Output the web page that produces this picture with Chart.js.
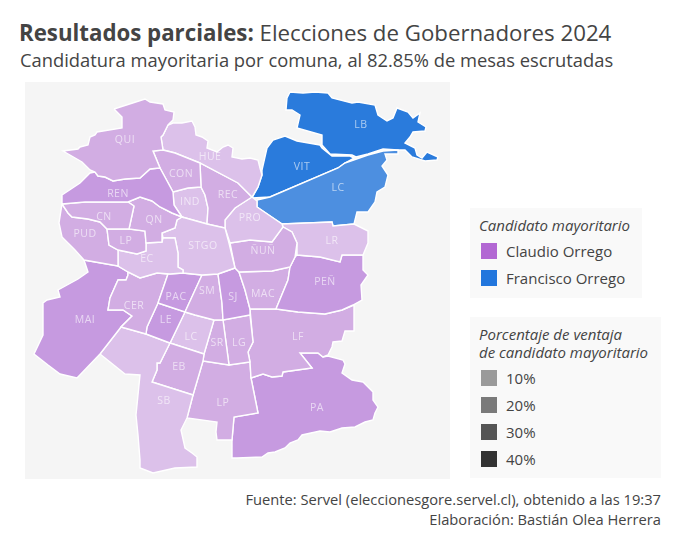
<!DOCTYPE html>
<html lang="es">
<head>
<meta charset="utf-8">
<title>Resultados parciales</title>
<script src="https://cdn.jsdelivr.net/npm/chart.js@4"></script>
<style>
  html, body { margin: 0; padding: 0; background: #fff; }
  body { position: relative; width: 680px; height: 555px; overflow: hidden; font-family: "Open Sans", sans-serif; color: #444; }
  .abs { position: absolute; white-space: nowrap; }
  #titulo { left: 19px; top: 17px; font-size: 22.26px; line-height: 32px; color: #444; }
  #subtitulo { left: 20px; top: 48px; font-size: 18.35px; line-height: 24px; color: #444; }
  #mapa { position: absolute; left: 25px; top: 82px; }
  .panel { position: absolute; background: #f9f9f9; }
  .panel i { position: absolute; left: 9px; font-size: 15px; line-height: 18px; white-space: nowrap; color: #444; }
  .panel b { position: absolute; left: 11px; width: 16px; height: 16px; }
  .panel span { position: absolute; left: 36px; font-size: 15px; line-height: 20px; white-space: nowrap; color: #444; }
  #fuente { right: 19px; top: 489px; font-size: 14.7px; line-height: 20px; text-align: right; color: #444; }
</style>
</head>
<body>
<div class="abs" id="titulo"><strong>Resultados parciales:</strong> Elecciones de Gobernadores 2024</div>
<div class="abs" id="subtitulo">Candidatura mayoritaria por comuna, al 82.85% de mesas escrutadas</div>
<canvas id="mapa" width="425" height="397"></canvas>
<div class="panel" id="panelCandidatos" style="left:470px;top:208px;width:172px;height:90px"></div>
<div class="panel" id="panelVentaja" style="left:470px;top:317px;width:191px;height:161px"></div>
<div class="abs" id="fuente">Fuente: Servel (eleccionesgore.servel.cl), obtenido a las 19:37<br>Elaboración: Bastián Olea Herrera</div>

<script>
const QUI = [[114,109],[145,99],[150,102],[163,104],[165,110],[174,112],[173,120],[168,125],[163,135],[161,137],[163,150],[153,151],[160,168],[150,169],[140,178],[125,179],[113,181],[105,177],[98,176],[95,172],[90,170],[82,162],[63,151],[78,149],[80,147],[88,145],[90,137],[95,135],[97,132],[122,128],[122,117]];
const REN = [[95,172],[98,176],[105,177],[113,181],[125,179],[140,178],[150,169],[160,168],[173,192],[174,205],[182,217],[172,213],[160,207],[152,201],[140,197],[128,202],[115,202],[85,202],[62,204],[62,195],[80,183],[90,173]];
const CN = [[62,204],[85,202],[115,202],[128,202],[134,206],[129,229],[107,229],[100,222],[88,219],[72,217],[68,213]];
const QN = [[134,206],[128,202],[140,197],[152,201],[160,207],[172,213],[182,217],[177,220],[175,228],[162,233],[162,242],[146,243],[145,231],[129,229]];
const LPR = [[107,229],[129,229],[145,231],[146,243],[146,251],[137,254],[118,250],[109,245]];
const PUD = [[62,204],[68,213],[72,217],[88,219],[100,222],[107,229],[109,245],[118,250],[118,266],[84,260],[75,250],[62,237],[59,223]];
const EC = [[118,250],[137,254],[146,251],[146,243],[162,242],[163,238],[175,238],[178,253],[178,267],[183,270],[183,273],[170,274],[157,273],[140,278],[128,272],[118,266]];
const STGO = [[182,217],[207,224],[225,228],[229,243],[235,268],[218,274],[202,275],[183,273],[183,270],[178,267],[178,253],[175,238],[163,238],[162,233],[175,228],[177,220]];
const CON = [[153,151],[163,150],[175,153],[200,163],[201,187],[188,188],[173,192],[160,168]];
const HUE = [[161,137],[163,135],[168,125],[173,123],[182,123],[192,121],[195,127],[196,135],[202,137],[208,141],[207,148],[217,152],[223,147],[228,145],[233,148],[232,157],[242,159],[250,158],[258,160],[260,168],[262,175],[258,187],[252,197],[238,183],[200,163],[175,153],[163,150]];
const REC = [[200,163],[238,183],[252,197],[235,208],[225,220],[225,228],[207,224],[208,208],[205,195],[201,187]];
const IND = [[173,192],[188,188],[201,187],[205,195],[208,208],[207,224],[182,217],[174,205]];
const PRO = [[225,228],[225,220],[235,208],[252,197],[257,201],[257,207],[282,224],[283,227],[272,242],[250,240],[230,243]];
const NUN = [[230,243],[250,240],[272,242],[283,227],[292,232],[297,243],[295,257],[290,267],[272,271],[239,272],[235,268]];
const LRE = [[283,227],[282,224],[332,222],[333,226],[354,224],[368,231],[368,243],[363,255],[342,255],[340,262],[320,257],[297,255],[297,243],[292,232]];
const LCO = [[257,200],[270,197],[338,168],[345,163],[368,155],[383,151],[398,150],[398,154],[385,154],[387,160],[382,166],[388,175],[385,187],[377,192],[375,202],[368,212],[357,212],[354,224],[333,226],[332,222],[282,224],[257,207]];
const VIT = [[252,198],[258,187],[262,175],[262,170],[267,148],[273,140],[285,136],[297,141],[320,145],[322,148],[332,156],[350,156],[354,158],[345,163],[338,168],[270,197]];
const LBA = [[290,92],[303,93],[315,92],[328,93],[332,98],[352,103],[358,102],[375,105],[378,115],[387,121],[393,118],[397,108],[408,112],[413,118],[420,113],[418,122],[426,127],[425,131],[413,132],[410,137],[405,143],[415,148],[417,155],[422,158],[427,152],[438,157],[437,160],[425,161],[412,157],[405,150],[398,150],[383,149],[368,154],[356,157],[352,155],[330,154],[322,145],[322,135],[297,128],[300,115],[292,110],[286,110],[287,98]];
const PEN = [[297,255],[320,257],[340,262],[342,255],[363,255],[363,270],[368,275],[361,285],[362,300],[353,305],[342,310],[325,314],[298,312],[276,309],[288,280],[290,267],[295,257]];
const MAC = [[239,272],[272,271],[290,267],[288,280],[276,309],[250,309],[245,290]];
const SJ = [[218,274],[235,268],[239,272],[245,290],[250,309],[250,315],[223,320],[222,303]];
const SM = [[202,275],[218,274],[222,303],[223,320],[214,320],[195,315],[185,312]];
const PAC = [[168,274],[183,273],[202,275],[185,312],[158,303]];
const CER = [[128,272],[140,278],[157,273],[168,274],[158,303],[147,327],[146,334],[121,327],[132,316],[123,310],[108,310],[110,298],[118,280],[126,280],[128,275]];
const MAI = [[84,260],[118,266],[128,272],[128,275],[126,280],[118,280],[110,298],[108,310],[123,310],[132,316],[121,327],[100,354],[77,378],[60,374],[48,365],[34,354],[43,335],[43,303],[47,300],[60,297],[58,290],[78,279],[88,272]];
const LE = [[158,303],[185,312],[170,343],[146,334],[147,327]];
const SB = [[121,327],[146,334],[170,343],[160,363],[157,363],[157,370],[152,382],[193,395],[187,418],[181,430],[185,448],[192,453],[197,457],[197,467],[175,468],[153,473],[140,468],[140,460],[138,435],[136,415],[140,375],[125,374],[100,354]];
const EB = [[170,343],[204,354],[203,361],[193,395],[152,382],[157,370],[157,363],[160,363]];
const LCI = [[185,312],[195,315],[214,320],[204,354],[170,343]];
const SRA = [[214,320],[223,320],[229,365],[203,361],[204,354]];
const LGR = [[223,320],[250,315],[253,342],[248,352],[250,362],[229,365]];
const LFL = [[250,309],[276,309],[298,312],[325,314],[342,310],[354,305],[354,331],[345,331],[342,341],[333,342],[332,347],[328,355],[323,357],[318,353],[300,353],[312,368],[283,372],[282,376],[272,377],[263,374],[251,378],[250,362],[248,352],[253,342]];
const LPI = [[203,361],[229,365],[250,362],[251,378],[258,413],[234,417],[232,440],[217,440],[216,432],[217,422],[187,418],[193,395]];
const PAL = [[251,378],[263,374],[272,377],[282,376],[283,372],[312,368],[300,353],[318,353],[323,357],[328,356],[343,360],[345,364],[342,373],[352,380],[363,382],[373,392],[373,400],[378,407],[375,413],[373,420],[365,422],[355,427],[342,428],[330,432],[320,431],[302,435],[298,440],[290,443],[285,448],[275,452],[268,453],[262,457],[237,458],[232,458],[232,440],[234,417],[258,413]];

const comunas = ['QUI','REN','CN','QN','LP','PUD','EC','STGO','CON','HUE','REC','IND','PRO','ÑUÑ','LR','LC','VIT','LB','PEÑ','MAC','SJ','SM','PAC','CER','MAI','LE','SB','EB','LC','SR','LG','LF','LP','PA'];
const contornos = [QUI,REN,CN,QN,LPR,PUD,EC,STGO,CON,HUE,REC,IND,PRO,NUN,LRE,LCO,VIT,LBA,PEN,MAC,SJ,SM,PAC,CER,MAI,LE,SB,EB,LCI,SRA,LGR,LFL,LPI,PAL];
// 0 = Claudio Orrego, 1 = Francisco Orrego
const ganador = [0,0,0,0,0,0,0,0,0,0,0,0,0,0,0,1,1,1,0,0,0,0,0,0,0,0,0,0,0,0,0,0,0,0];
// Ventaja aproximada en puntos porcentuales, estimada por el tono de cada comuna
const ventaja = [15,20,15,15,15,15,10,10,15,10,15,10,10,15,10,15,25,25,20,15,20,15,20,15,20,20,10,15,10,15,15,15,15,20];
const posEtiquetaX = [125,118,104,154,126,85,147,203,181,210,228,190,250,263,332,338,302,361,325,263,233,207,176,134,85,166,164,179,191,217,239,298,223,317];
const posEtiquetaY = [140,194,217,220,241,234,259,246,174,157,195,202,218,251,241,188,167,125,282,294,297,291,297,306,320,320,401,367,337,343,343,337,403,408];

const candidatos = ['Claudio Orrego', 'Francisco Orrego'];
const coloresCandidatos = ['#b267d3', '#2276dd'];
const nivelesVentaja = ['10%', '20%', '30%', '40%'];
const grisesVentaja = ['#9a9a9a', '#7a7a7a', '#555555', '#333333'];

// Tonos según candidato y ventaja
const tonos = [
  { 10: '#dcc1ea', 15: '#d2ade3', 20: '#c69ae0' },
  { 15: '#4d8fe0', 25: '#2a7bdc' }
];

const datasets = contornos.map((contorno, i) => ({
  label: comunas[i],
  data: contorno.concat([contorno[0]]).map(p => ({ x: p[0], y: p[1] })),
  showLine: true,
  fill: 'shape',
  backgroundColor: tonos[ganador[i]][ventaja[i]],
  borderColor: '#ffffff',
  borderWidth: 1.4,
  tension: 0,
  pointRadius: 0,
  pointHoverRadius: 0
}));

// Siglas de comunas sobre el mapa
const etiquetas = {
  id: 'etiquetas',
  afterDatasetsDraw(chart) {
    const { ctx, scales } = chart;
    ctx.save();
    ctx.font = '10.5px "Open Sans"';
    ctx.letterSpacing = '0.5px';
    ctx.fillStyle = 'rgba(255,255,255,0.6)';
    ctx.textAlign = 'center';
    ctx.textBaseline = 'middle';
    comunas.forEach((c, i) => {
      ctx.fillText(c, scales.x.getPixelForValue(posEtiquetaX[i]), scales.y.getPixelForValue(posEtiquetaY[i]));
    });
    ctx.restore();
  }
};

// Fondo gris del mapa
const fondo = {
  id: 'fondo',
  beforeDraw(chart) {
    chart.ctx.save();
    chart.ctx.fillStyle = '#f5f5f5';
    chart.ctx.fillRect(0, 0, chart.width, chart.height);
    chart.ctx.restore();
  }
};

new Chart(document.getElementById('mapa').getContext('2d'), {
  type: 'scatter',
  data: { datasets },
  options: {
    responsive: false,
    animation: false,
    layout: { padding: 0 },
    plugins: { legend: { display: false }, tooltip: { enabled: false } },
    scales: {
      x: { type: 'linear', display: false, min: 25, max: 450 },
      y: { type: 'linear', display: false, min: 82, max: 479, reverse: true }
    }
  },
  plugins: [fondo, etiquetas]
});

// Leyendas
function agregar(panel, tag, texto, top, color) {
  const el = document.createElement(tag);
  if (texto) el.textContent = texto;
  el.style.top = top + 'px';
  if (color) el.style.background = color;
  panel.appendChild(el);
}

const panelCandidatos = document.getElementById('panelCandidatos');
agregar(panelCandidatos, 'i', 'Candidato mayoritario', 8);
candidatos.forEach((c, i) => {
  agregar(panelCandidatos, 'b', '', 35 + i * 27, coloresCandidatos[i]);
  agregar(panelCandidatos, 'span', c, 33 + i * 27);
});

const panelVentaja = document.getElementById('panelVentaja');
agregar(panelVentaja, 'i', 'Porcentaje de ventaja', 8);
agregar(panelVentaja, 'i', 'de candidato mayoritario', 26);
nivelesVentaja.forEach((n, i) => {
  agregar(panelVentaja, 'b', '', 53 + i * 27, grisesVentaja[i]);
  agregar(panelVentaja, 'span', n, 51 + i * 27);
});
</script>
</body>
</html>
